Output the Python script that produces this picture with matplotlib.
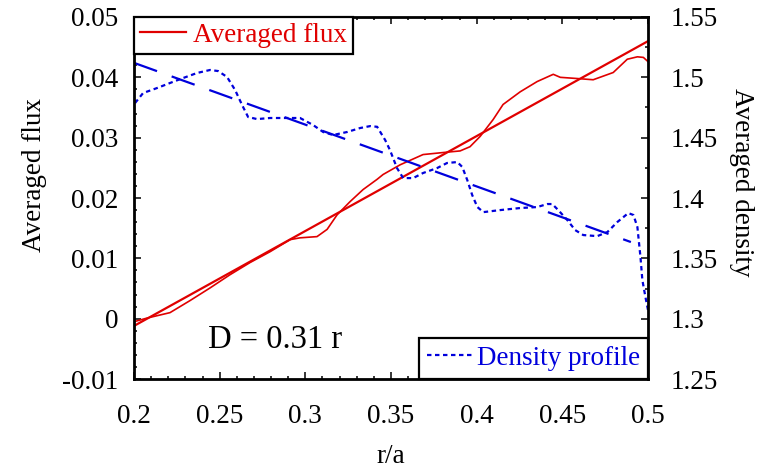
import numpy as np
import matplotlib.pyplot as plt
from matplotlib.ticker import MultipleLocator

plt.rcParams['font.family'] = ['Liberation Serif', 'DejaVu Serif']

RED = '#e00000'
BLUE = '#0000dc'
FONT = 19.5

# averaged flux (left axis)
flux_r = [0.2000, 0.2076, 0.2210, 0.2327, 0.2444, 0.2561, 0.2677, 0.2794,
          0.2911, 0.2969, 0.3068, 0.3127, 0.3185, 0.3261, 0.3337, 0.3419,
          0.3454, 0.3553, 0.3687, 0.3827, 0.3903, 0.3961, 0.4020, 0.4096,
          0.4154, 0.4254, 0.4353, 0.4447, 0.4488, 0.4587, 0.4680, 0.4797,
          0.4879, 0.4938, 0.4973, 0.5000]
flux_val = [-0.0005, 0.0001, 0.0010, 0.0030, 0.0051, 0.0073, 0.0093, 0.0111,
            0.0131, 0.0134, 0.0136, 0.0148, 0.0172, 0.0194, 0.0214, 0.0231,
            0.0239, 0.0255, 0.0272, 0.0276, 0.0278, 0.0285, 0.0302, 0.0330,
            0.0355, 0.0376, 0.0393, 0.0405, 0.0400, 0.0398, 0.0396, 0.0408,
            0.0430, 0.0434, 0.0433, 0.0426]
flux_fit_r = [0.2, 0.5]
flux_fit_val = [-0.0012, 0.0460]

# density profile (right axis)
dens_r = [0.2006, 0.2053, 0.2134, 0.2210, 0.2286, 0.2368, 0.2444, 0.2491,
          0.2543, 0.2590, 0.2631, 0.2666, 0.2718, 0.2794, 0.2893, 0.2969,
          0.3045, 0.3104, 0.3162, 0.3244, 0.3320, 0.3379, 0.3419, 0.3466,
          0.3494, 0.3535, 0.3571, 0.3629, 0.3687, 0.3769, 0.3827, 0.3887,
          0.3916, 0.3945, 0.3974, 0.4004, 0.4039, 0.4138, 0.4254, 0.4353,
          0.4412, 0.4441, 0.4476, 0.4529, 0.4575, 0.4622, 0.4704, 0.4763,
          0.4821, 0.4885, 0.4915, 0.4938, 0.4956, 0.4967, 0.4985, 0.5000]
dens_val = [1.4787, 1.4870, 1.4911, 1.4953, 1.4994, 1.5036, 1.5061, 1.5052,
            1.5003, 1.4895, 1.4770, 1.4671, 1.4654, 1.4663, 1.4663, 1.4663,
            1.4605, 1.4547, 1.4522, 1.4547, 1.4580, 1.4596, 1.4590, 1.4480,
            1.4397, 1.4248, 1.4165, 1.4165, 1.4207, 1.4248, 1.4290, 1.4298,
            1.4257, 1.4149, 1.4024, 1.3925, 1.3883, 1.3900, 1.3917, 1.3925,
            1.3950, 1.3950, 1.3900, 1.3817, 1.3734, 1.3693, 1.3684, 1.3718,
            1.3801, 1.3875, 1.3859, 1.3759, 1.3510, 1.3320, 1.3179, 1.3071]
dens_fit_r = [0.2, 0.49]
dens_fit_val = [1.512, 1.3635]

fig = plt.figure(figsize=(7.58, 4.72), dpi=100)
ax = fig.add_axes([0.1768, 0.197, 0.6781, 0.767])
ax2 = ax.twinx()

ax.plot(flux_r, flux_val, color=RED, lw=1.2, zorder=3)
l_flux, = ax.plot(flux_fit_r, flux_fit_val, color=RED, lw=1.6, zorder=3,
                  label='Averaged flux')
l_dens, = ax2.plot(dens_r, dens_val, color=BLUE, lw=1.6,
                   linestyle=(0, (2, 1.6)), label='Density profile')
ax2.plot(dens_fit_r, dens_fit_val, color=BLUE, lw=1.6, linestyle=(0, (11, 7)))

ax.set_xlim(0.2, 0.5)
ax.set_ylim(-0.01, 0.05)
ax2.set_ylim(1.25, 1.55)

ax.xaxis.set_major_locator(MultipleLocator(0.05))
ax.xaxis.set_minor_locator(MultipleLocator(0.01))
ax.yaxis.set_major_locator(MultipleLocator(0.01))
ax.yaxis.set_minor_locator(MultipleLocator(0.002))
ax2.yaxis.set_major_locator(MultipleLocator(0.05))
ax2.yaxis.set_minor_locator(MultipleLocator(0.025))

ax.set_xticks([0.2, 0.25, 0.3, 0.35, 0.4, 0.45, 0.5])
ax.set_xticklabels(['0.2', '0.25', '0.3', '0.35', '0.4', '0.45', '0.5'])
ax.set_yticks([-0.01, 0, 0.01, 0.02, 0.03, 0.04, 0.05])
ax.set_yticklabels(['-0.01', '0', '0.01', '0.02', '0.03', '0.04', '0.05'])
ax2.set_yticks([1.25, 1.3, 1.35, 1.4, 1.45, 1.5, 1.55])
ax2.set_yticklabels(['1.25', '1.3', '1.35', '1.4', '1.45', '1.5', '1.55'])

ax.tick_params(axis='x', which='both', direction='in', top=True, pad=18,
               labelsize=FONT)
ax.tick_params(axis='y', which='both', direction='in', right=False, pad=11,
               labelsize=FONT)
ax2.tick_params(axis='y', which='both', direction='in', pad=16, labelsize=FONT)
for a in (ax, ax2):
    a.tick_params(which='major', length=5, width=1.1)
    a.tick_params(which='minor', length=2.5, width=1.1)
for s in ax2.spines.values():
    s.set_linewidth(2)

ax.set_xlabel('r/a', fontsize=FONT, labelpad=11)
ax.set_ylabel('Averaged flux', fontsize=FONT, labelpad=11)
ax2.set_ylabel('Averaged density', fontsize=FONT, rotation=270, labelpad=26)
ax.yaxis.label.set_y(0.564)
ax2.yaxis.label.set_y(0.544)

ax.text(0.274, 0.108, 'D = 0.31 r', transform=ax.transAxes, fontsize=23.5,
        ha='center', va='center')

leg1 = ax2.legend(handles=[l_flux], loc='upper left', fontsize=FONT,
                  borderaxespad=0, fancybox=False, framealpha=1,
                  edgecolor='black', handlelength=1.7, handletextpad=0.25,
                  borderpad=0.22, labelcolor=RED)
leg1.get_frame().set_linewidth(1.6)
ax2.add_artist(leg1)
leg2 = ax2.legend(handles=[l_dens], loc='lower right', fontsize=FONT,
                  borderaxespad=0, fancybox=False, framealpha=1,
                  edgecolor='black', handlelength=1.7, handletextpad=0.15,
                  borderpad=0.3, labelcolor=BLUE)
leg2.get_frame().set_linewidth(1.6)

fig.savefig('out.png', dpi=100)
